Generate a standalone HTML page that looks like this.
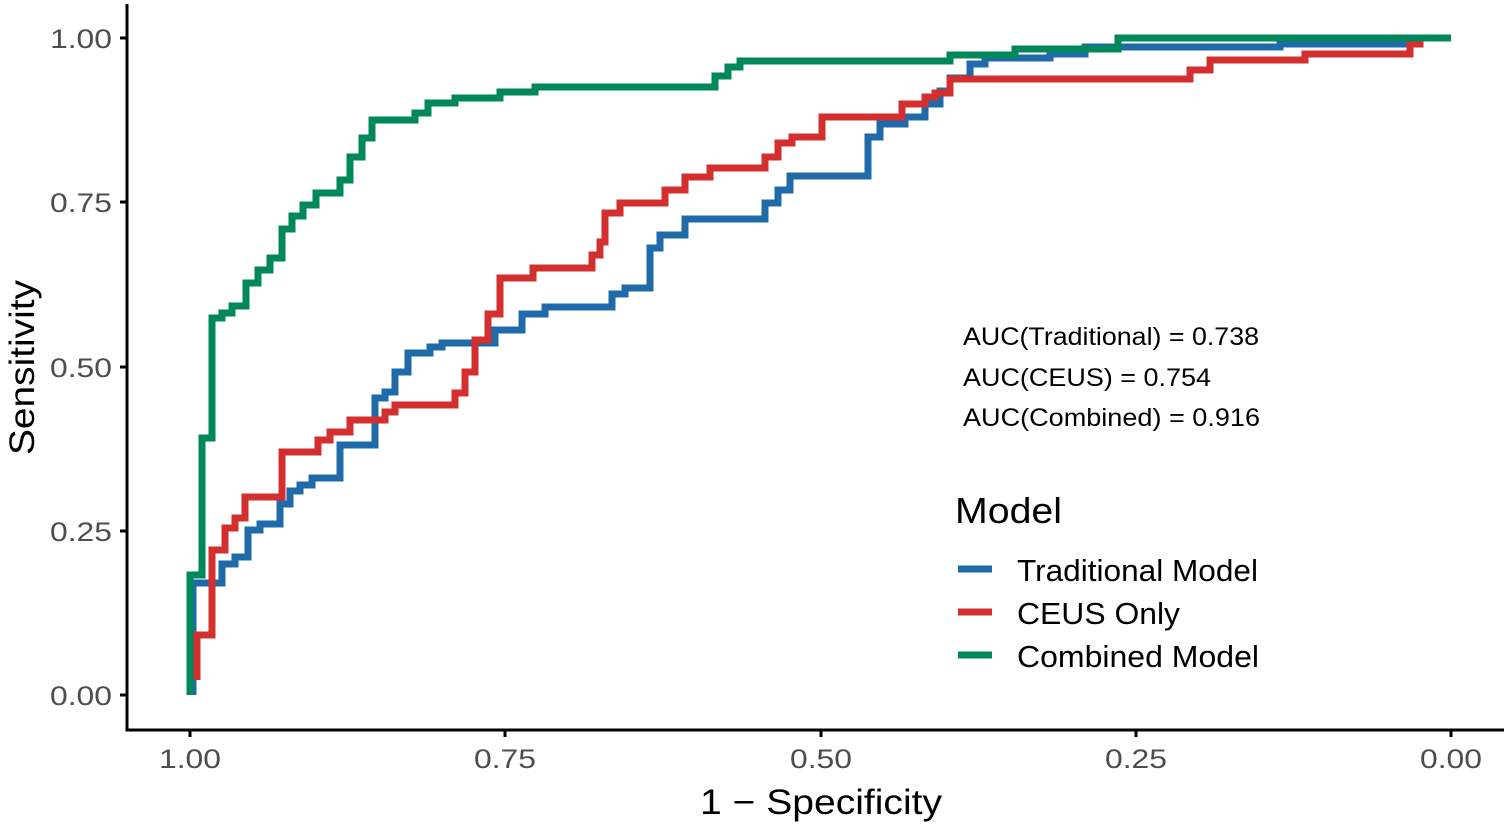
<!DOCTYPE html>
<html><head><style>html,body{margin:0;padding:0;background:#fff}</style></head><body>
<svg width="1508" height="826" xmlns="http://www.w3.org/2000/svg" font-family="Liberation Sans, Arial, sans-serif">
<rect width="1508" height="826" fill="#fff"/>
<g stroke="#000" stroke-width="3" fill="none">
<path d="M127,4 V730 H1504"/>
<path d="M120,38H127M120,202H127M120,367H127M120,531H127M120,695H127"/>
<path d="M190,730V737M505,730V737M821,730V737M1136,730V737M1451,730V737"/>
</g>
<g fill="#4d4d4d" font-size="27" text-anchor="end">
<text x="112" y="48" textLength="62" lengthAdjust="spacingAndGlyphs">1.00</text>
<text x="112" y="212" textLength="62" lengthAdjust="spacingAndGlyphs">0.75</text>
<text x="112" y="377" textLength="62" lengthAdjust="spacingAndGlyphs">0.50</text>
<text x="112" y="541" textLength="62" lengthAdjust="spacingAndGlyphs">0.25</text>
<text x="112" y="705" textLength="62" lengthAdjust="spacingAndGlyphs">0.00</text>
</g>
<g fill="#4d4d4d" font-size="27">
<text x="159" y="768" textLength="62" lengthAdjust="spacingAndGlyphs">1.00</text>
<text x="474" y="768" textLength="62" lengthAdjust="spacingAndGlyphs">0.75</text>
<text x="790" y="768" textLength="62" lengthAdjust="spacingAndGlyphs">0.50</text>
<text x="1105" y="768" textLength="62" lengthAdjust="spacingAndGlyphs">0.25</text>
<text x="1420" y="768" textLength="62" lengthAdjust="spacingAndGlyphs">0.00</text>
</g>
<text x="700" y="814" font-size="35" textLength="242" lengthAdjust="spacingAndGlyphs">1 − Specificity</text>
<text transform="translate(34,455) rotate(-90)" font-size="35" textLength="175" lengthAdjust="spacingAndGlyphs">Sensitivity</text>
<g fill="none" stroke-width="7" stroke-linejoin="miter">
<path stroke="#1f6aa8" d="M193,695V583H222V564H235V557H248V530H260V524H280V504H290V491H300V485H312V478H340V445H375V398H385V392H395V372H408V353H430V347H442V343H495V330H522V314H545V307H612V294H625V288H650V248H660V235H685V219H765V203H778V190H790V176H868V137H880V124H905V117H925V104H940V91H950V78H970V64H985V58H1050V54H1085V47H1280V44H1420V38H1451"/>
<path stroke="#d32f2f" d="M197,680V635H212V550H225V528H235V518H245V497H282V452H318V440H330V432H350V420H385V412H395V405H455V393H465V372H475V340H488V314H500V278H533V268H592V255H600V242H605V213H620V203H665V190H685V177H710V168H765V157H778V143H792V137H822V117H902V104H925V97H935V93H950V79H1190V70H1210V60H1305V54H1410V44H1420V38H1451"/>
<path stroke="#00875a" d="M190,695V575H202V438H212V318H222V313H232V306H246V283H258V270H270V258H282V229H292V216H303V205H316V193H340V180H350V157H362V138H372V120H415V113H428V103H455V98H500V92H535V87H715V76H728V67H740V61H950V55H1015V49H1118V38H1451"/>
</g>
<g font-size="25" fill="#000">
<text x="963" y="345" textLength="296" lengthAdjust="spacingAndGlyphs">AUC(Traditional) = 0.738</text>
<text x="963" y="386" textLength="248" lengthAdjust="spacingAndGlyphs">AUC(CEUS) = 0.754</text>
<text x="963" y="426" textLength="297" lengthAdjust="spacingAndGlyphs">AUC(Combined) = 0.916</text>
</g>
<text x="955" y="523" font-size="36" textLength="107" lengthAdjust="spacingAndGlyphs">Model</text>
<g stroke-width="7">
<line x1="958" y1="569" x2="992" y2="569" stroke="#1f6aa8"/>
<line x1="958" y1="612" x2="992" y2="612" stroke="#d32f2f"/>
<line x1="958" y1="655" x2="992" y2="655" stroke="#00875a"/>
</g>
<g font-size="31" fill="#000">
<text x="1017" y="581" textLength="241" lengthAdjust="spacingAndGlyphs">Traditional Model</text>
<text x="1017" y="624" textLength="163" lengthAdjust="spacingAndGlyphs">CEUS Only</text>
<text x="1017" y="667" textLength="242" lengthAdjust="spacingAndGlyphs">Combined Model</text>
</g>
</svg>
</body></html>
